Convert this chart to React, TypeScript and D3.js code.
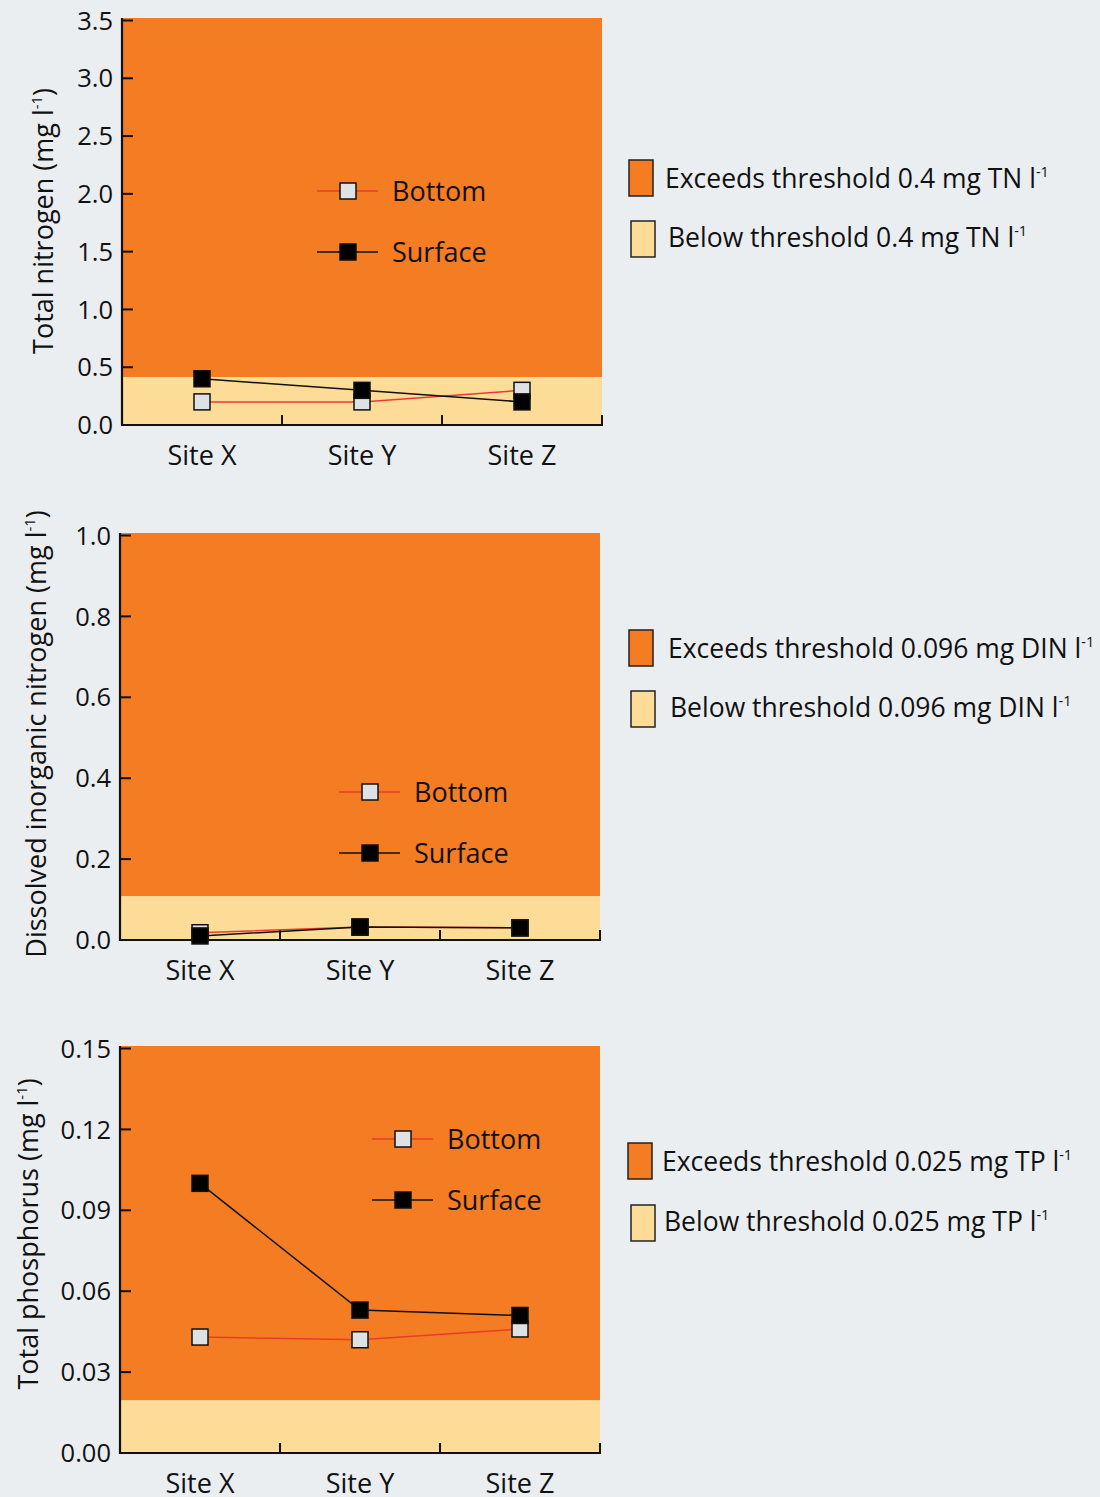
import React from 'react';
import * as d3 from 'd3';

const sites = ['Site X', 'Site Y', 'Site Z'];
const seriesNames = ['Bottom', 'Surface'];

const tnBottom = [0.2, 0.2, 0.3];
const tnSurface = [0.4, 0.3, 0.2];
const dinBottom = [0.018, 0.032, 0.03];
const dinSurface = [0.01, 0.032, 0.03];
const tpBottom = [0.043, 0.042, 0.046];
const tpSurface = [0.1, 0.053, 0.051];

const tnTicks = [0, 0.5, 1.0, 1.5, 2.0, 2.5, 3.0, 3.5];
const dinTicks = [0, 0.2, 0.4, 0.6, 0.8, 1.0];
const tpTicks = [0, 0.03, 0.06, 0.09, 0.12, 0.15];

const tnMax = 3.5;
const dinMax = 1.0;
const tpMax = 0.15;

// boundary of the light "below threshold" band as drawn
const tnBand = 0.415;
const dinBand = 0.108;
const tpBand = 0.0195;

const yTitles = ['Total nitrogen (mg l', 'Dissolved inorganic nitrogen (mg l', 'Total phosphorus (mg l'];
const exceedLabels = ['Exceeds threshold 0.4 mg TN l', 'Exceeds threshold 0.096 mg DIN l', 'Exceeds threshold 0.025 mg TP l'];
const belowLabels = ['Below threshold 0.4 mg TN l', 'Below threshold 0.096 mg DIN l', 'Below threshold 0.025 mg TP l'];

const BG = '#eaeef1';
const ORANGE = '#f47c22';
const LIGHT = '#fddc98';
const RED = '#ec3b2e';
const GREYFILL = '#dfe2e5';
const FONT = "'Open Sans', 'Noto Sans', sans-serif";

type PanelCfg = {
  bottom: number[];
  surface: number[];
  ticks: number[];
  max: number;
  band: number;
  fmt: string;
  title: string;
  exceed: string;
  below: string;
  left: number;
  right: number;
  top: number;
  titleX: number;
  titleY: number;
  legX: number;
  legY: number;
  r1: [number, number];
  r2: [number, number];
  t1x: number;
  t2x: number;
};

const panels: PanelCfg[] = [
  {
    bottom: tnBottom, surface: tnSurface, ticks: tnTicks, max: tnMax, band: tnBand, fmt: '.1f',
    title: yTitles[0], exceed: exceedLabels[0], below: belowLabels[0],
    left: 122, right: 602, top: 18, titleX: 43, titleY: 221, legX: 317, legY: 191,
    r1: [629, 160], r2: [631, 221], t1x: 665, t2x: 668,
  },
  {
    bottom: dinBottom, surface: dinSurface, ticks: dinTicks, max: dinMax, band: dinBand, fmt: '.1f',
    title: yTitles[1], exceed: exceedLabels[1], below: belowLabels[1],
    left: 120, right: 600, top: 533, titleX: 36, titleY: 734, legX: 339, legY: 792,
    r1: [629, 630], r2: [631, 691], t1x: 668, t2x: 670,
  },
  {
    bottom: tpBottom, surface: tpSurface, ticks: tpTicks, max: tpMax, band: tpBand, fmt: '.2f',
    title: yTitles[2], exceed: exceedLabels[2], below: belowLabels[2],
    left: 120, right: 600, top: 1046, titleX: 28, titleY: 1234, legX: 372, legY: 1139,
    r1: [628, 1143], r2: [631, 1205], t1x: 662, t2x: 664,
  },
];

const MS = 16; // marker size

function Marker({ x, y, fill }: { x: number; y: number; fill: string }) {
  return <rect x={x - MS / 2} y={y - MS / 2} width={MS} height={MS} fill={fill} stroke="#111" strokeWidth={1.5} />;
}

function Sup({ text }: { text: string }) {
  return (
    <>
      {text}
      <tspan fontSize="0.55em" dy="-0.75em">-1</tspan>
    </>
  );
}

function Panel({ p }: { p: PanelCfg }) {
  const y0 = p.top + 407;
  const y = d3.scaleLinear().domain([0, p.max]).range([y0, p.top + 2.5]);
  const x = d3.scaleBand<string>().domain(sites).range([p.left, p.right]);
  const cx = (s: string) => (x(s) as number) + x.bandwidth() / 2;
  const fmt = d3.format(p.fmt);
  const line = d3
    .line<number>()
    .x((_, i) => cx(sites[i]))
    .y((d) => y(d));
  const bandY = y(p.band);
  return (
    <g>
      <rect x={p.left} y={p.top} width={p.right - p.left} height={bandY - p.top} fill={ORANGE} />
      <rect x={p.left} y={bandY} width={p.right - p.left} height={y0 - bandY} fill={LIGHT} />
      {/* y axis */}
      <line x1={p.left} x2={p.left} y1={p.top} y2={y0 + 1} stroke="#111" strokeWidth={2.2} />
      {p.ticks.map((t) => (
        <g key={t}>
          <line x1={p.left} x2={p.left + 11} y1={y(t)} y2={y(t)} stroke="#111" strokeWidth={2} />
          <text x={p.left - 9} y={y(t)} dy="0.36em" textAnchor="end" fontSize={25.5} fontFamily={FONT} fill="#111">
            {fmt(t)}
          </text>
        </g>
      ))}
      {/* x axis */}
      <line x1={p.left - 1} x2={p.right + 1} y1={y0} y2={y0} stroke="#111" strokeWidth={2.2} />
      {sites.map((s) => (
        <g key={s}>
          <line
            x1={(x(s) as number) + x.bandwidth()}
            x2={(x(s) as number) + x.bandwidth()}
            y1={y0}
            y2={y0 - 10}
            stroke="#111"
            strokeWidth={2}
          />
          <text x={cx(s)} y={y0 + 40} textAnchor="middle" fontSize={27} fontFamily={FONT} fill="#111">
            {s}
          </text>
        </g>
      ))}
      {/* y title */}
      <text
        transform={`translate(${p.titleX},${p.titleY}) rotate(-90)`}
        textAnchor="middle"
        dy="0.36em"
        fontSize={27}
        fontFamily={FONT}
        fill="#111"
      >
        <Sup text={p.title} />
        <tspan fontSize={27} dy="0.41em">)</tspan>
      </text>
      {/* series */}
      <path d={line(p.bottom) || ''} fill="none" stroke={RED} strokeWidth={1.5} />
      <path d={line(p.surface) || ''} fill="none" stroke="#111" strokeWidth={1.5} />
      {p.bottom.map((v, i) => (
        <Marker key={'b' + i} x={cx(sites[i])} y={y(v)} fill={GREYFILL} />
      ))}
      {p.surface.map((v, i) => (
        <Marker key={'s' + i} x={cx(sites[i])} y={y(v)} fill="#000" />
      ))}
      {/* inner legend */}
      {seriesNames.map((n, i) => {
        const ly = p.legY + i * 61;
        return (
          <g key={n}>
            <line x1={p.legX} x2={p.legX + 61} y1={ly} y2={ly} stroke={i === 0 ? RED : '#111'} strokeWidth={1.5} />
            <Marker x={p.legX + 31} y={ly} fill={i === 0 ? GREYFILL : '#000'} />
            <text x={p.legX + 75} y={ly} dy="0.36em" fontSize={27} fontFamily={FONT} fill="#111">
              {n}
            </text>
          </g>
        );
      })}
      {/* right legend */}
      <rect x={p.r1[0]} y={p.r1[1]} width={24} height={36} fill={ORANGE} stroke="#222" strokeWidth={1.5} />
      <text x={p.t1x} y={p.r1[1] + 18} dy="0.36em" fontSize={26.5} fontFamily={FONT} fill="#111">
        <Sup text={p.exceed} />
      </text>
      <rect x={p.r2[0]} y={p.r2[1]} width={24} height={36} fill={LIGHT} stroke="#222" strokeWidth={1.5} />
      <text x={p.t2x} y={p.r2[1] + 16} dy="0.36em" fontSize={26.5} fontFamily={FONT} fill="#111">
        <Sup text={p.below} />
      </text>
    </g>
  );
}

export default function App() {
  return (
    <svg
      width={1100}
      height={1497}
      style={{ position: 'absolute', left: 0, top: 0, display: 'block' }}
      xmlns="http://www.w3.org/2000/svg"
    >
      <rect x={0} y={0} width={1100} height={1497} fill={BG} />
      {panels.map((p, i) => (
        <Panel key={i} p={p} />
      ))}
    </svg>
  );
}
